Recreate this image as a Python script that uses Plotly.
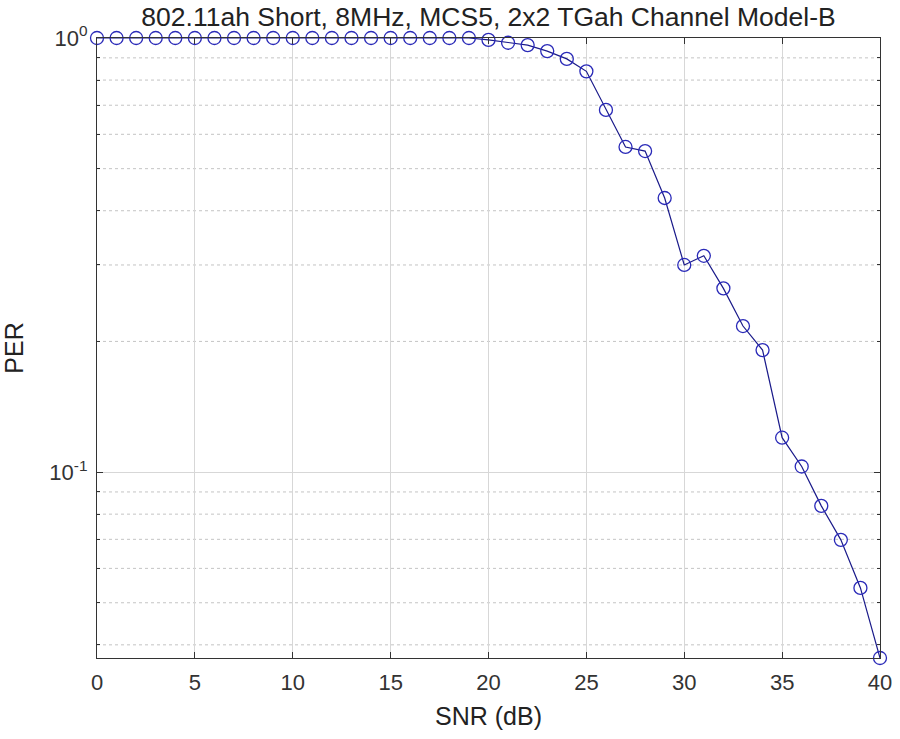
import plotly.graph_objects as go
import numpy as np

snr_db = list(range(0, 41))
per = [1.0] * 20 + [0.99, 0.975, 0.963, 0.933, 0.895, 0.838, 0.683, 0.561, 0.549, 0.428,
                    0.300, 0.315, 0.265, 0.217, 0.191, 0.120, 0.103, 0.0836, 0.0698, 0.0541, 0.0373]
title_text = "802.11ah Short, 8MHz, MCS5, 2x2 TGah Channel Model-B"
x_ticks = [0, 5, 10, 15, 20, 25, 30, 35, 40]
y_ticks = [0.1, 1.0]
y_ticklabels = ["10<sup>-1</sup>", "10<sup>0</sup>"]
y_minor = [0.04, 0.05, 0.06, 0.07, 0.08, 0.09, 0.2, 0.3, 0.4, 0.5, 0.6, 0.7, 0.8, 0.9]

ymin = min(per)
fig = go.Figure()

grid_col = "rgba(215,215,215,1)"
for v in y_minor:
    fig.add_shape(type="line", xref="paper", x0=0, x1=1, yref="y", y0=v, y1=v,
                  line=dict(color="rgba(190,190,190,0.9)", width=1, dash="dot"), layer="below")

fig.add_trace(go.Scatter(
    x=snr_db, y=per, mode="lines+markers",
    line=dict(color="#1a1a8a", width=1.2),
    marker=dict(symbol="circle-open", size=13, color="#2a2ab8", line=dict(width=1.3)),
    showlegend=False, cliponaxis=False))

font_fam = "Liberation Sans, Arial, sans-serif"
txt_col = "#333333"
H = 739
fig.update_layout(
    width=900, height=H,
    margin=dict(l=97, r=20, t=38, b=81, autoexpand=False),
    paper_bgcolor="white", plot_bgcolor="white",
    font=dict(family=font_fam, size=22, color=txt_col),
    title=dict(text=title_text, x=0.5, xref="paper", xanchor="center",
               yref="container", y=1 - 17 / H, yanchor="middle",
               font=dict(size=26.5, color="#222222", family=font_fam)),
    xaxis=dict(range=[0, 40], tickvals=x_ticks, ticks="inside", ticklen=6, automargin=False,
               tickcolor="#333", showline=True, linecolor="#333", linewidth=1.2, mirror="ticks",
               showgrid=True, gridcolor=grid_col, gridwidth=1, zeroline=False,
               ticklabelstandoff=4,
               title=dict(text="SNR (dB)", font=dict(size=25, color="#222"), standoff=13),
               tickfont=dict(size=22, color=txt_col)),
    yaxis=dict(type="log", range=[np.log10(ymin), 0], tickvals=y_ticks, ticktext=y_ticklabels,
               ticks="inside", ticklen=6, automargin=False, ticklabelstandoff=4,
               tickcolor="#333", showline=True, linecolor="#333",
               linewidth=1.2, mirror="ticks", showgrid=True, gridcolor=grid_col, zeroline=False,
               minor=dict(tickvals=y_minor, ticks="inside", ticklen=3, tickcolor="#333", showgrid=False),
               title=dict(text="PER", font=dict(size=25, color="#222"), standoff=18),
               tickfont=dict(size=22, color=txt_col)),
)
fig.write_html("out.html", config={"displayModeBar": False},
               post_script="document.body.style.margin='0';")
